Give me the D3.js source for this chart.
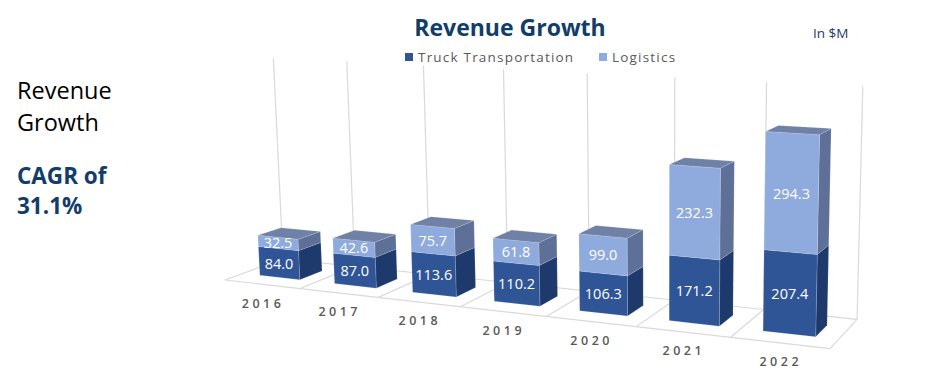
<!DOCTYPE html>
<html><head><meta charset="utf-8">
<script src="https://cdn.jsdelivr.net/npm/d3@7"></script>
<style>body{margin:0;background:#fff} svg{display:block}</style>
</head><body><svg id="c" width="929" height="378"></svg>
<script>
const categories = ["2016","2017","2018","2019","2020","2021","2022"];
const truck = [84.0, 87.0, 113.6, 110.2, 106.3, 171.2, 207.4];
const logistics = [32.5, 42.6, 75.7, 61.8, 99.0, 232.3, 294.3];
const seriesNames = ["Truck Transportation", "Logistics"];
const valueMax = 600;

const svg = d3.select("#c");
const font = "'Open Sans', sans-serif";

// world scales (category slots, bars, values)
const xCat = d3.scaleBand().domain(categories).range([0, categories.length]);
const xBar = d3.scaleBand().domain(categories).range([0, categories.length]).paddingInner(0.46).paddingOuter(0.23);
const yWorld = d3.scaleLinear().domain([0, valueMax]).range([0, 1]);
const zFront = 0.3, zBack = 0.7;

// perspective camera given by vanishing points
const cam = {O:[225,280], VX:[-3171,-105], ax:-0.021602, VY:[664,8181], ay:-0.0262, VZ:[1234,-88], az:0.061};
function proj(X, Y, Z){
  const a = cam.ax*X, b = cam.ay*Y, c = cam.az*Z;
  const w = 1 + a + b + c;
  return [(cam.O[0] + a*cam.VX[0] + b*cam.VY[0] + c*cam.VZ[0]) / w,
          (cam.O[1] + a*cam.VX[1] + b*cam.VY[1] + c*cam.VZ[1]) / w];
}
const line = d3.line();
const poly = pts => line(pts.map(p => proj(...p))) + "Z";

// floor and back wall
const grid = svg.append("g").attr("stroke", "#d9d9d9").attr("stroke-width", 1.2).attr("fill", "none");
const N = categories.length;
const floorSegs = [
  [[0,0,0],[N,0,0]], [[0,0,1],[N,0,1]], [[0,0,0],[0,0,1]], [[N,0,0],[N,0,1]]
];
d3.range(1, N).forEach(k => floorSegs.push([[k,0,0],[k,0,1]]));
d3.range(0, N+1).forEach(k => floorSegs.push([[k,0,1],[k,1,1]]));
grid.selectAll("path").data(floorSegs).join("path").attr("d", s => line(s.map(p => proj(...p))));

// bars
const colors = {
  truck: {front:"#2F5597", side:"#1E3A6C", top:"#3D5F9C"},
  logistics: {front:"#8FAADC", side:"#5E7098", top:"#6F81A6"}
};
const bars = svg.append("g");
categories.forEach((c, i) => {
  const xl = xBar(c), xr = xBar(c) + xBar.bandwidth(), xm = (xl + xr)/2;
  const segs = [
    {v0:0, v1:truck[i], col:colors.truck, val:truck[i]},
    {v0:truck[i], v1:truck[i]+logistics[i], col:colors.logistics, val:logistics[i]}
  ];
  segs.forEach((s, j) => {
    const y0 = yWorld(s.v0), y1 = yWorld(s.v1);
    const g = bars.append("g").attr("stroke", "rgba(255,255,255,0.18)").attr("stroke-width", 0.8).attr("stroke-linejoin","round");
    g.append("path").attr("fill", s.col.side)
      .attr("d", poly([[xr,y0,zFront],[xr,y0,zBack],[xr,y1,zBack],[xr,y1,zFront]]));
    g.append("path").attr("fill", s.col.front)
      .attr("d", poly([[xl,y0,zFront],[xr,y0,zFront],[xr,y1,zFront],[xl,y1,zFront]]));
    if (j === segs.length - 1) {
      g.append("path").attr("fill", s.col.top)
        .attr("d", poly([[xl,y1,zFront],[xr,y1,zFront],[xr,y1,zBack],[xl,y1,zBack]]));
    }
  });
  segs.forEach(s => {
    const p = proj(xm, yWorld((s.v0 + s.v1)/2), zFront);
    bars.append("text").attr("x", p[0]).attr("y", p[1])
      .attr("text-anchor","middle").attr("dominant-baseline","central")
      .attr("font-family", font).attr("font-size", 14.5).attr("fill", "#fff")
      .text(s.val.toFixed(1));
  });
});

// category labels
svg.append("g").selectAll("text").data(categories).join("text")
  .attr("x", c => proj(xCat(c) + xCat.bandwidth()/2, 0, 0)[0] + 1)
  .attr("y", c => proj(xCat(c) + xCat.bandwidth()/2, 0, 0)[1] + 19)
  .attr("text-anchor","middle").attr("dominant-baseline","central")
  .attr("font-family", font).attr("font-size", 12.5).attr("font-weight", 600)
  .attr("letter-spacing", 3.5).attr("fill", "#595959")
  .text(c => c);

// title and notes
svg.append("text").attr("x", 510).attr("y", 36).attr("text-anchor","middle")
  .attr("font-family", font).attr("font-size", 23).attr("font-weight", 700).attr("fill", "#123D6A")
  .text("Revenue Growth");
svg.append("text").attr("x", 813).attr("y", 38)
  .attr("font-family", font).attr("font-size", 13.5).attr("fill", "#1F3864").text("In $M");

// legend
const legendColors = [colors.truck.front, colors.logistics.front];
const legendX = [405, 599];
const lg = svg.append("g");
seriesNames.forEach((n, k) => {
  lg.append("rect").attr("x", legendX[k]).attr("y", 53).attr("width", 8).attr("height", 8).attr("fill", legendColors[k]);
  lg.append("text").attr("x", legendX[k] + 13).attr("y", 62)
    .attr("font-family", font).attr("font-size", 13.5).attr("letter-spacing", 1.2).attr("fill", "#595959").text(n);
});

// left side text
const left = svg.append("g").attr("font-family", font);
left.append("text").attr("x", 17).attr("y", 99).attr("font-size", 23.5).attr("fill", "#000").text("Revenue");
left.append("text").attr("x", 17).attr("y", 131).attr("font-size", 23.5).attr("fill", "#000").text("Growth");
left.append("text").attr("x", 17).attr("y", 184).attr("font-size", 22.5).attr("font-weight", 700).attr("fill", "#123D6A").text("CAGR of");
left.append("text").attr("x", 17).attr("y", 214).attr("font-size", 22.5).attr("font-weight", 700).attr("fill", "#123D6A").text("31.1%");
</script></body></html>
